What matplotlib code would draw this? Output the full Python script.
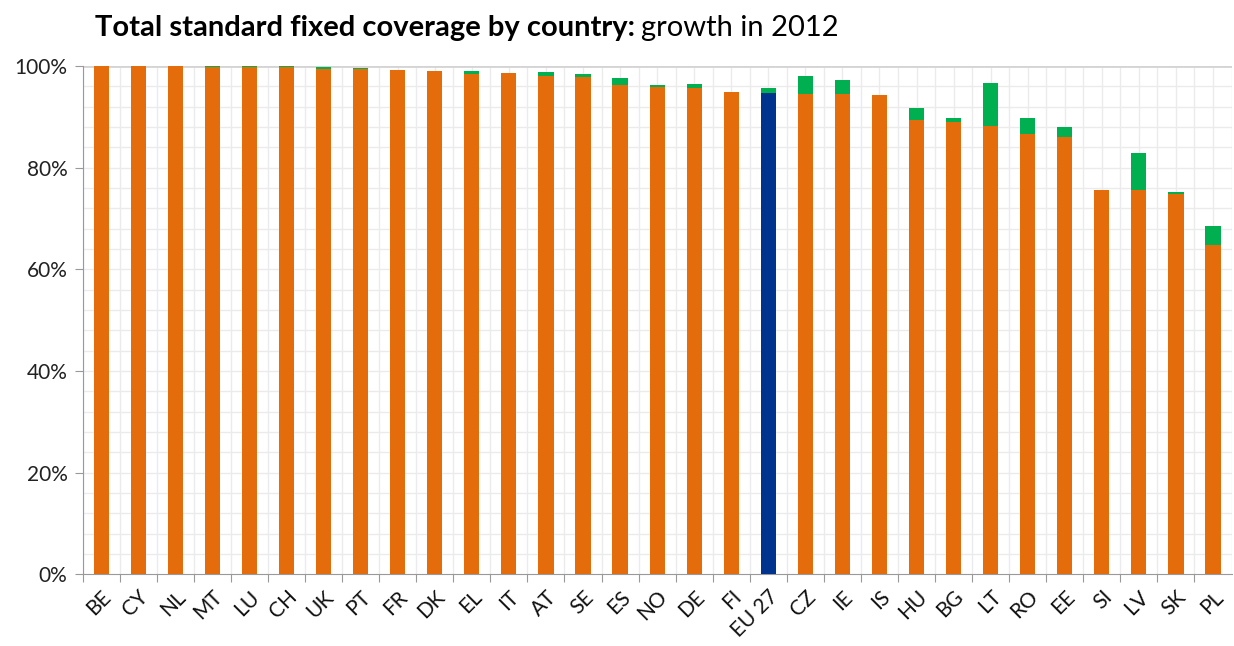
import numpy as np
import matplotlib.pyplot as plt
from matplotlib.ticker import MultipleLocator, FuncFormatter

countries = ["BE", "CY", "NL", "MT", "LU", "CH", "UK", "PT", "FR", "DK",
             "EL", "IT", "AT", "SE", "ES", "NO", "DE", "FI", "EU 27", "CZ",
             "IE", "IS", "HU", "BG", "LT", "RO", "EE", "SI", "LV", "SK", "PL"]

# coverage at end of 2011 (orange / blue for EU 27)
coverage_2011 = [100.0, 100.0, 100.0, 99.8, 99.7, 99.7, 99.4, 99.3, 99.2, 99.0,
                 98.4, 98.6, 98.0, 97.9, 96.3, 95.8, 95.6, 94.9, 94.7, 94.5,
                 94.5, 94.3, 89.3, 89.0, 88.2, 86.7, 86.0, 75.6, 75.5, 74.9, 64.8]

# growth during 2012 (green)
growth_2012 = [0.0, 0.0, 0.0, 0.2, 0.2, 0.3, 0.4, 0.3, -0.3, -0.3,
               0.6, -0.3, 0.8, 0.6, 1.3, 0.4, 0.9, -0.3, 0.9, 3.5,
               2.7, 0.0, 2.4, 0.7, 8.5, 3.0, 1.9, -0.3, 7.3, 0.3, 3.8]

orange = "#E46C0A"
green = "#00B050"
blue = "#00338D"

x = np.arange(len(countries))
base = np.array(coverage_2011)
grow = np.array(growth_2012)
base_colors = [blue if c == "EU 27" else orange for c in countries]

plt.rcParams['font.family'] = ['Lato', 'DejaVu Sans']

fig = plt.figure(figsize=(12.34, 6.46), dpi=100)
ax = fig.add_axes([0.067, 0.111, 0.931, 0.787])

w = 0.41
ax.bar(x, base, width=w, color=base_colors, zorder=3)
grow_bottom = np.where(grow >= 0, base, 0)
ax.bar(x, grow, width=w, bottom=grow_bottom, color=green, zorder=3)

ax.set_xlim(-0.5, len(countries) - 0.5)
ax.set_ylim(0, 100)

ax.yaxis.set_major_locator(MultipleLocator(20))
ax.yaxis.set_minor_locator(MultipleLocator(4))
ax.yaxis.set_major_formatter(FuncFormatter(lambda v, p: f"{v:.0f}%"))

ax.set_xticks(x - 0.5, minor=False)
ax.set_xticklabels([])
ax.set_xticks(x, labels=countries, minor=True)

for gx in np.arange(-0.5, len(countries), 0.5):
    ax.axvline(gx, color="#EBEBEB", lw=1, zorder=1)
for gy in np.arange(4, 100, 4):
    ax.axhline(gy, color="#EBEBEB", lw=1, zorder=1)
ax.axhline(100, color="#D4D4D4", lw=2, zorder=2)

for s in ["top", "right"]:
    ax.spines[s].set_visible(False)
ax.spines["left"].set_color("#999999")
ax.spines["bottom"].set_color("#999999")

ax.tick_params(axis="y", which="major", length=6, color="#999999",
               labelsize=15, labelcolor="#222222", pad=5)
ax.tick_params(axis="y", which="minor", length=0)
ax.tick_params(axis="x", which="major", length=6, color="#999999")
ax.tick_params(axis="x", which="minor", length=0, labelsize=15,
               labelcolor="#111111", pad=9)
for lbl in ax.get_xticklabels(minor=True):
    lbl.set_rotation(45)
    lbl.set_ha("right")
    lbl.set_va("top")
    lbl.set_rotation_mode("anchor")

fig.text(0.077, 0.945, "Total standard fixed coverage by country:",
         fontsize=21, fontweight="bold", ha="left", va="baseline")
fig.canvas.draw()
t1 = fig.texts[0]
bb = t1.get_window_extent()
x_end = fig.transFigure.inverted().transform((bb.x1, bb.y0))[0]
fig.text(x_end + 0.005, 0.945, "growth in 2012", fontsize=21,
         ha="left", va="baseline")

fig.savefig("out.png", dpi=100)
